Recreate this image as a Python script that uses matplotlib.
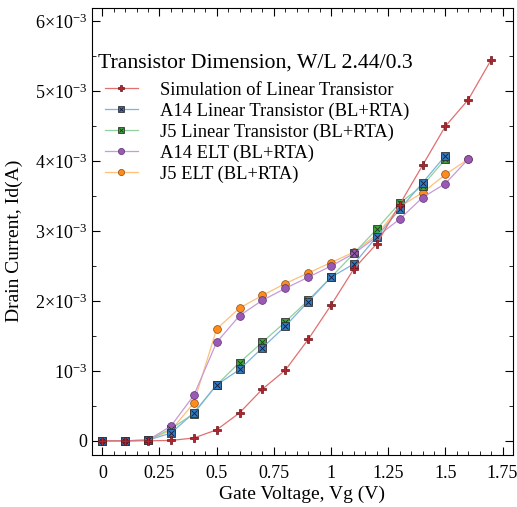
import numpy as np
import matplotlib
matplotlib.use("Agg")
import matplotlib.pyplot as plt
from matplotlib.ticker import MultipleLocator, FuncFormatter
from matplotlib.legend_handler import HandlerTuple

plt.rcParams['font.family'] = ['Liberation Serif', 'DejaVu Serif']
plt.rcParams['mathtext.fontset'] = 'custom'
plt.rcParams['mathtext.rm'] = 'Liberation Serif'
plt.rcParams['mathtext.it'] = 'Liberation Serif:italic'

# Gate voltage (V) and drain current (mA, scaled to A when plotting)
vg_sim = [0, 0.1, 0.2, 0.3, 0.4, 0.5, 0.6, 0.7, 0.8, 0.9, 1.0, 1.1, 1.2, 1.3, 1.4, 1.5, 1.6, 1.7]
id_sim = [0, 0, 0, 0.005, 0.04, 0.157, 0.40, 0.74, 1.01, 1.45, 1.94, 2.46, 2.82, 3.38, 3.94, 4.50, 4.88, 5.45]

vg_lin = [0, 0.1, 0.2, 0.3, 0.4, 0.5, 0.6, 0.7, 0.8, 0.9, 1.0, 1.1, 1.2, 1.3, 1.4, 1.5]
id_a14_lin = [0, 0, 0.01, 0.11, 0.40, 0.80, 1.02, 1.33, 1.64, 1.99, 2.34, 2.53, 2.92, 3.31, 3.69, 4.08]
id_j5_lin = [0, 0, 0.01, 0.17, 0.39, 0.80, 1.12, 1.41, 1.70, 2.01, 2.34, 2.68, 3.03, 3.40, 3.65, 4.03]

vg_elt = [0, 0.1, 0.2, 0.3, 0.4, 0.5, 0.6, 0.7, 0.8, 0.9, 1.0, 1.1, 1.2, 1.3, 1.4, 1.5, 1.6]
id_a14_elt = [0, 0, 0.01, 0.21, 0.65, 1.41, 1.79, 2.01, 2.18, 2.34, 2.50, 2.68, 2.92, 3.17, 3.48, 3.68, 4.03]
id_j5_elt = [0, 0, 0.01, 0.15, 0.54, 1.60, 1.90, 2.08, 2.25, 2.40, 2.55, 2.70, 2.95, 3.35, 3.55, 3.81, 4.03]

labels = ["Simulation of Linear Transistor",
          "A14 Linear Transistor (BL+RTA)",
          "J5 Linear Transistor (BL+RTA)",
          "A14 ELT (BL+RTA)",
          "J5 ELT (BL+RTA)"]

fig = plt.figure(figsize=(5.17, 5.07), dpi=100)
ax = fig.add_axes([0.178, 0.103, 0.814, 0.881])

def amps(v):
    return np.array(v) * 1e-3

h_sim, = ax.plot(vg_sim, amps(id_sim), color="#e07070", lw=0.9, marker="P",
                 ms=5.8, mfc="#b02530", mec="#6a1015", mew=0.5, zorder=5)

sq1, = ax.plot(vg_lin, amps(id_a14_lin), color="#7fb3d9", lw=0.9, marker="s",
               ms=5.3, mfc="#2f7bbf", mec="#333333", mew=0.6, zorder=4)
x1, = ax.plot(vg_lin, amps(id_a14_lin), ls="none", marker="x", ms=3.8,
              mec="#1a1a3a", mew=0.6, zorder=4.1)
sq2, = ax.plot(vg_lin, amps(id_j5_lin), color="#8fd19e", lw=0.9, marker="s",
               ms=5.3, mfc="#3fa33f", mec="#333333", mew=0.6, zorder=3)
x2, = ax.plot(vg_lin, amps(id_j5_lin), ls="none", marker="x", ms=3.8,
              mec="#1a3a1a", mew=0.6, zorder=3.1)

h_a14, = ax.plot(vg_elt, amps(id_a14_elt), color="#c79ad8", lw=0.9, marker="o",
                 ms=5.6, mfc="#9b59b6", mec="#5a3070", mew=0.5, zorder=3)
h_j5, = ax.plot(vg_elt, amps(id_j5_elt), color="#ffc07a", lw=0.9, marker="o",
                ms=5.6, mfc="#ff8c1a", mec="#8a4a10", mew=0.5, zorder=2)

ax.set_xlim(-0.045, 1.795)
ax.set_ylim(-0.2e-3, 6.19e-3)

ax.xaxis.set_major_locator(MultipleLocator(0.25))
ax.xaxis.set_minor_locator(MultipleLocator(0.05))
ax.yaxis.set_major_locator(MultipleLocator(1e-3))
ax.yaxis.set_minor_locator(MultipleLocator(0.5e-3))

def xfmt(v, pos):
    return "{:g}".format(round(v, 2))

def yfmt(v, pos):
    n = int(round(v * 1e3))
    if n == 0:
        return "0"
    if n == 1:
        return r"$10^{-3}$"
    return r"${}{{\times}}10^{{-3}}$".format(n)

ax.xaxis.set_major_formatter(FuncFormatter(xfmt))
ax.yaxis.set_major_formatter(FuncFormatter(yfmt))
ax.tick_params(which="both", direction="in", top=True, right=True, labelsize=13)
ax.tick_params(which="major", length=6, width=0.8)
ax.tick_params(which="minor", length=3, width=0.6)
ax.tick_params(axis="x", pad=7)

ax.set_xlabel("Gate Voltage, Vg (V)", fontsize=14, labelpad=3)
ax.set_ylabel("Drain Current, Id(A)", fontsize=14, labelpad=4)
ax.yaxis.set_label_coords(-0.165, 0.479)

# legend title drawn as separate text so it sits left of the handles
ax.text(0.014, 0.868, "Transistor Dimension, W/L 2.44/0.3", transform=ax.transAxes,
        fontsize=15.7, ha="left", va="baseline")

handles = [h_sim, (sq1, x1), (sq2, x2), h_a14, h_j5]
leg = ax.legend(handles, labels, loc="upper left", bbox_to_anchor=(0.03, 0.835),
                frameon=False, fontsize=13.3, handlelength=1.8, markerscale=0.8,
                handletextpad=1.2, labelspacing=0.2, borderaxespad=0, borderpad=0,
                handler_map={tuple: HandlerTuple(ndivide=1, pad=0)})

fig.savefig("out.png", dpi=100)
